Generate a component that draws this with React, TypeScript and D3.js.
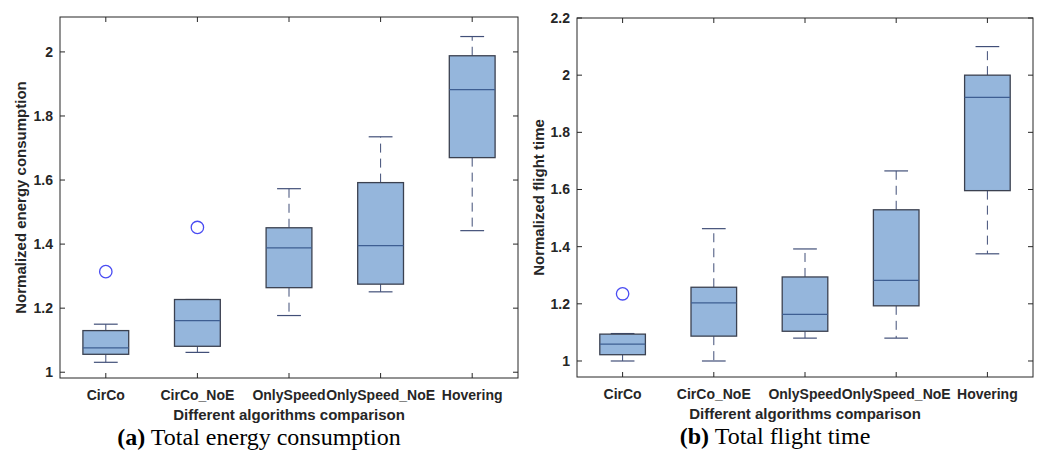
import React from 'react';
import * as d3 from 'd3';

const categories = ['CirCo', 'CirCo_NoE', 'OnlySpeed', 'OnlySpeed_NoE', 'Hovering'];

// (a) total energy consumption
const energyLow = [1.031, 1.062, 1.177, 1.251, 1.442];
const energyQ1 = [1.056, 1.081, 1.264, 1.275, 1.67];
const energyMedian = [1.076, 1.161, 1.388, 1.395, 1.882];
const energyQ3 = [1.13, 1.227, 1.451, 1.592, 1.988];
const energyHigh = [1.15, 1.227, 1.573, 1.735, 2.048];
const energyOutliers = [[1.314], [1.452], [], [], []];
const energyTicks = [1, 1.2, 1.4, 1.6, 1.8, 2];

// (b) total flight time
const timeLow = [1.0, 1.0, 1.08, 1.08, 1.375];
const timeQ1 = [1.022, 1.087, 1.104, 1.193, 1.596];
const timeMedian = [1.059, 1.203, 1.163, 1.282, 1.922];
const timeQ3 = [1.094, 1.258, 1.294, 1.529, 2.0];
const timeHigh = [1.096, 1.463, 1.392, 1.665, 2.1];
const timeOutliers = [[1.235], [], [], [], []];
const timeTicks = [1, 1.2, 1.4, 1.6, 1.8, 2, 2.2];

const boxFill = '#95b6dc';
const boxEdge = '#3b4150';
const medianColor = '#3e5e92';
const whiskerColor = '#414f78';
const outlierColor = '#4a4cf2';
const axisColor = '#262626';
const sans = '"Liberation Sans", Arial, sans-serif';
const serif = '"Liberation Serif", "Times New Roman", serif';

type PanelProps = {
  left: number; right: number; top: number; bottom: number;
  domain: [number, number];
  ticks: number[];
  low: number[]; q1: number[]; med: number[]; q3: number[]; high: number[];
  outliers: number[][];
  ylabel: string; ylabelX: number;
  letter: string; caption: string;
};

function Panel(p: PanelProps) {
  const x = d3.scaleBand<string>().domain(categories).range([p.left, p.right]);
  const y = d3.scaleLinear().domain(p.domain).range([p.bottom, p.top]);
  const bw = x.bandwidth();
  const boxW = bw * 0.5;
  const capW = bw * 0.26;
  const cx = (c: string) => (x(c) as number) + bw / 2;
  const midX = (p.left + p.right) / 2;
  const tickLen = 5;

  return (
    <g>
      {categories.map((c, i) => {
        const xc = cx(c);
        return (
          <g key={c}>
            {p.high[i] > p.q3[i] && (
              <line x1={xc} x2={xc} y1={y(p.q3[i])} y2={y(p.high[i])}
                stroke={whiskerColor} strokeWidth={1} strokeDasharray="9,6" />
            )}
            {p.low[i] < p.q1[i] && (
              <line x1={xc} x2={xc} y1={y(p.q1[i])} y2={y(p.low[i])}
                stroke={whiskerColor} strokeWidth={1} strokeDasharray="9,6" />
            )}
            <line x1={xc - capW / 2} x2={xc + capW / 2} y1={y(p.high[i])} y2={y(p.high[i])}
              stroke={whiskerColor} strokeWidth={1.2} />
            <line x1={xc - capW / 2} x2={xc + capW / 2} y1={y(p.low[i])} y2={y(p.low[i])}
              stroke={whiskerColor} strokeWidth={1.2} />
            <rect x={xc - boxW / 2} y={y(p.q3[i])} width={boxW} height={y(p.q1[i]) - y(p.q3[i])}
              fill={boxFill} stroke={boxEdge} strokeWidth={1.3} />
            <line x1={xc - boxW / 2} x2={xc + boxW / 2} y1={y(p.med[i])} y2={y(p.med[i])}
              stroke={medianColor} strokeWidth={1.3} />
            {p.outliers[i].map((v, j) => (
              <circle key={j} cx={xc} cy={y(v)} r={6.2} fill="none" stroke={outlierColor} strokeWidth={1.3} />
            ))}
          </g>
        );
      })}

      <rect x={p.left} y={p.top} width={p.right - p.left} height={p.bottom - p.top}
        fill="none" stroke={axisColor} strokeWidth={1} />

      {p.ticks.map((t) => (
        <g key={t}>
          <line x1={p.left} x2={p.left + tickLen} y1={y(t)} y2={y(t)} stroke={axisColor} />
          <line x1={p.right} x2={p.right - tickLen} y1={y(t)} y2={y(t)} stroke={axisColor} />
          <text x={p.left - 7} y={y(t)} dy="0.35em" textAnchor="end"
            fontFamily={sans} fontWeight="bold" fontSize={14} fill={axisColor}>{String(t)}</text>
        </g>
      ))}

      {categories.map((c) => (
        <g key={c}>
          <line x1={cx(c)} x2={cx(c)} y1={p.bottom} y2={p.bottom - tickLen} stroke={axisColor} />
          <line x1={cx(c)} x2={cx(c)} y1={p.top} y2={p.top + tickLen} stroke={axisColor} />
          <text x={cx(c)} y={p.bottom + 22} textAnchor="middle"
            fontFamily={sans} fontWeight="bold" fontSize={14} fill={axisColor}>{c}</text>
        </g>
      ))}

      <text x={midX} y={p.bottom + 42} textAnchor="middle"
        fontFamily={sans} fontWeight="bold" fontSize={15} fill={axisColor}>
        Different algorithms comparison
      </text>

      <text transform={`translate(${p.ylabelX},${(p.top + p.bottom) / 2}) rotate(-90)`}
        textAnchor="middle" dy="0.35em"
        fontFamily={sans} fontWeight="bold" fontSize={15} fill={axisColor}>
        {p.ylabel}
      </text>

      <text x={midX - 30} y={p.bottom + 67} textAnchor="middle"
        fontFamily={serif} fontSize={24} fill="#000">
        <tspan fontWeight="bold">({p.letter})</tspan> {p.caption}
      </text>
    </g>
  );
}

export default function App() {
  return (
    <svg width={1040} height={450} style={{ position: 'absolute', left: 0, top: 0, background: '#fff' }}>
      <rect width={1040} height={450} fill="#fff" />
      <Panel left={60} right={518} top={17} bottom={378} domain={[0.982, 2.109]} ticks={energyTicks}
        low={energyLow} q1={energyQ1} med={energyMedian} q3={energyQ3} high={energyHigh}
        outliers={energyOutliers} ylabel="Normalized energy consumption" ylabelX={21}
        letter="a" caption="Total energy consumption" />
      <Panel left={577} right={1033} top={18} bottom={377} domain={[0.944, 2.2]} ticks={timeTicks}
        low={timeLow} q1={timeQ1} med={timeMedian} q3={timeQ3} high={timeHigh}
        outliers={timeOutliers} ylabel="Normalized flight time" ylabelX={539}
        letter="b" caption="Total flight time" />
    </svg>
  );
}
